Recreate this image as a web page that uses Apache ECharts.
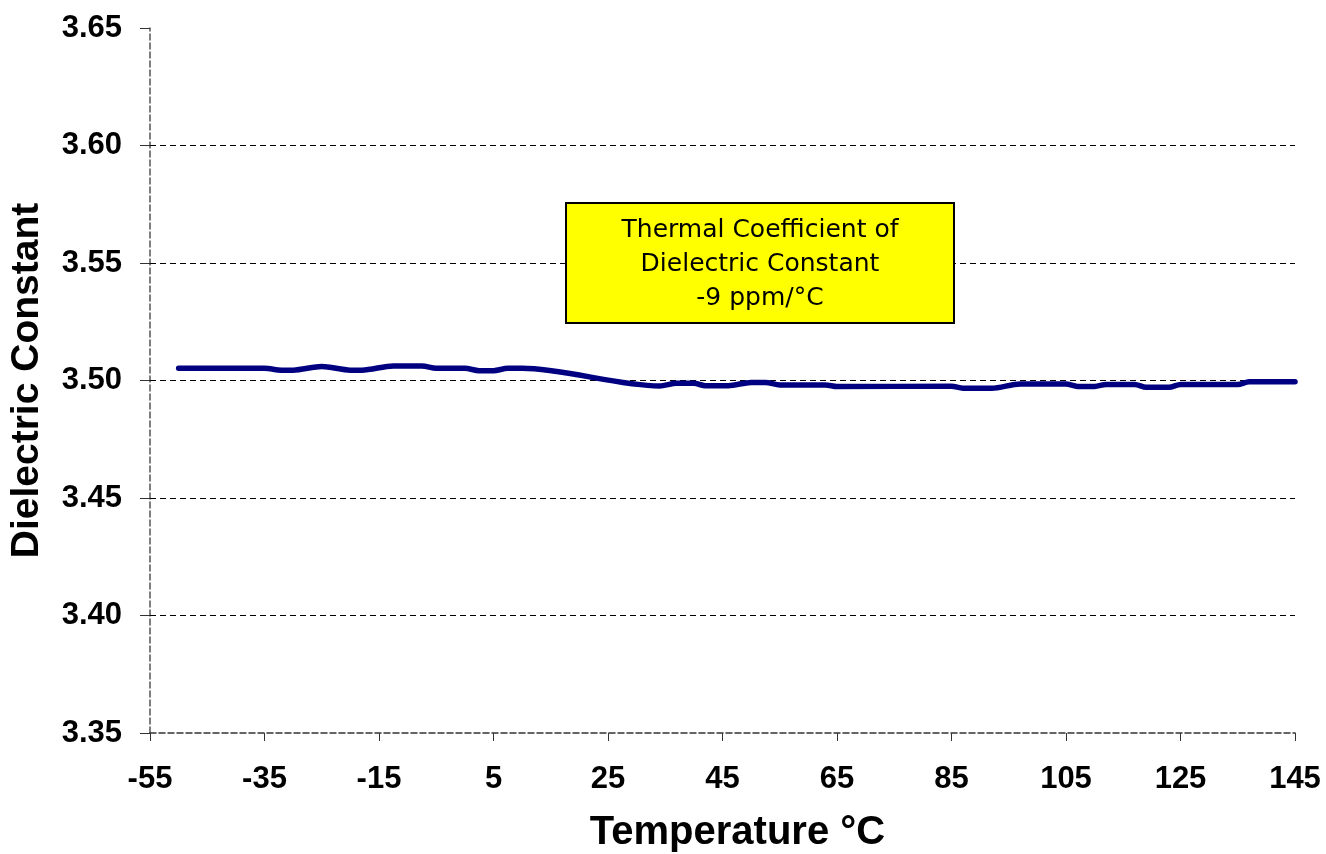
<!DOCTYPE html>
<html>
<head>
<meta charset="utf-8">
<script src="https://cdn.jsdelivr.net/npm/echarts@6/dist/echarts.min.js"></script>
<style>
html,body{margin:0;padding:0;background:#fff;}
#chart{width:1326px;height:854px;}
</style>
</head>
<body>
<div id="chart"></div>
<script>
// Temperature (°C) of the line vertices
const temps = [-50, -35, -32, -30, -25, -20, -18, -12.5, -7.5, -5, 0, 2.5, 5, 7.5, 10,
  34, 37, 40, 42, 46, 50, 52.5, 55, 63, 65, 85, 87, 92, 97, 105, 107, 110, 112, 117, 119, 123, 125, 135, 137, 145];
// Dielectric constant at each of those temperatures
const dk = [3.5052, 3.5052, 3.5044, 3.5044, 3.5060, 3.5044, 3.5044, 3.5062, 3.5062, 3.5052, 3.5052, 3.5042, 3.5042, 3.5052, 3.5052,
  3.4977, 3.4988, 3.4988, 3.4978, 3.4978, 3.4992, 3.4992, 3.4981, 3.4981, 3.4974, 3.4976, 3.4967, 3.4967, 3.4985, 3.4985, 3.4975, 3.4975, 3.4983, 3.4983, 3.4971, 3.4971, 3.4983, 3.4983, 3.4995, 3.4995];
const xTicks = [-55, -35, -15, 5, 25, 45, 65, 85, 105, 125, 145];
const yTicks = [3.35, 3.40, 3.45, 3.50, 3.55, 3.60, 3.65];
const gridValues = [3.40, 3.45, 3.50, 3.55, 3.60];
const xTitle = 'Temperature °C';
const yTitle = 'Dielectric Constant';
const noteLines = ['Thermal Coefficient of', 'Dielectric Constant', '-9 ppm/°C'];

const chart = echarts.init(document.getElementById('chart'), null, {renderer: 'canvas'});
const boldFont = {fontFamily: '"Liberation Sans", Arial, sans-serif', fontWeight: 'bold', color: '#000'};

chart.setOption({
  animation: false,
  backgroundColor: '#fff',
  grid: {left: 150, right: 31, top: 28, bottom: 121, containLabel: false, outerBoundsMode: 'none'},
  xAxis: {
    type: 'value',
    min: -55, max: 145,
    name: xTitle,
    nameLocation: 'middle',
    nameGap: 80,
    nameTextStyle: Object.assign({}, boldFont, {fontSize: 40, padding: [0, 0, 0, 30]}),
    axisLine: {show: true, onZero: false, lineStyle: {color: '#333', width: 1.5, type: [6, 3]}},
    axisTick: {show: true, inside: false, length: 8, customValues: xTicks, lineStyle: {color: '#333', width: 1}},
    axisLabel: Object.assign({}, boldFont, {fontSize: 31, margin: 31, customValues: xTicks, formatter: v => String(v)}),
    splitLine: {show: false}
  },
  yAxis: {
    type: 'value',
    min: yTicks[0], max: yTicks[yTicks.length - 1], interval: 0.05,
    name: yTitle,
    nameLocation: 'middle',
    nameRotate: 90,
    nameGap: 103,
    nameTextStyle: Object.assign({}, boldFont, {fontSize: 39}),
    axisLine: {show: true, onZero: false, lineStyle: {color: '#555', width: 1.5, type: [6, 3]}},
    axisTick: {show: true, length: 10, lineStyle: {color: '#333', width: 1}},
    axisLabel: Object.assign({}, boldFont, {fontSize: 31, margin: 28, formatter: v => v.toFixed(2)}),
    splitLine: {show: false}
  },
  series: [{
    type: 'line',
    data: temps.map((t, i) => [t, dk[i]]),
    smooth: 0.3,
    smoothMonotone: 'x',
    showSymbol: false,
    lineStyle: {color: '#000080', width: 5.5, cap: 'round', join: 'round'},
    z: 5,
    markLine: {
      silent: true,
      symbol: ['none', 'none'],
      label: {show: false},
      lineStyle: {color: '#000', width: 1, type: [6, 4]},
      data: gridValues.map(v => ({yAxis: v})),
      z: 1
    }
  }],
  graphic: [{
    type: 'group',
    left: 565, top: 202,
    z: 100,
    children: [
      {type: 'rect', z: 100, shape: {x: 0, y: 0, width: 388, height: 120},
       style: {fill: '#FFFF00', stroke: '#000', lineWidth: 2}},
      {type: 'text', z: 101, x: 194, y: 61,
       style: {text: noteLines.join('\n'), fill: '#000', font: '25px "DejaVu Sans", sans-serif',
               lineHeight: 34, align: 'center', verticalAlign: 'middle'}}
    ]
  }]
});
</script>
</body>
</html>
